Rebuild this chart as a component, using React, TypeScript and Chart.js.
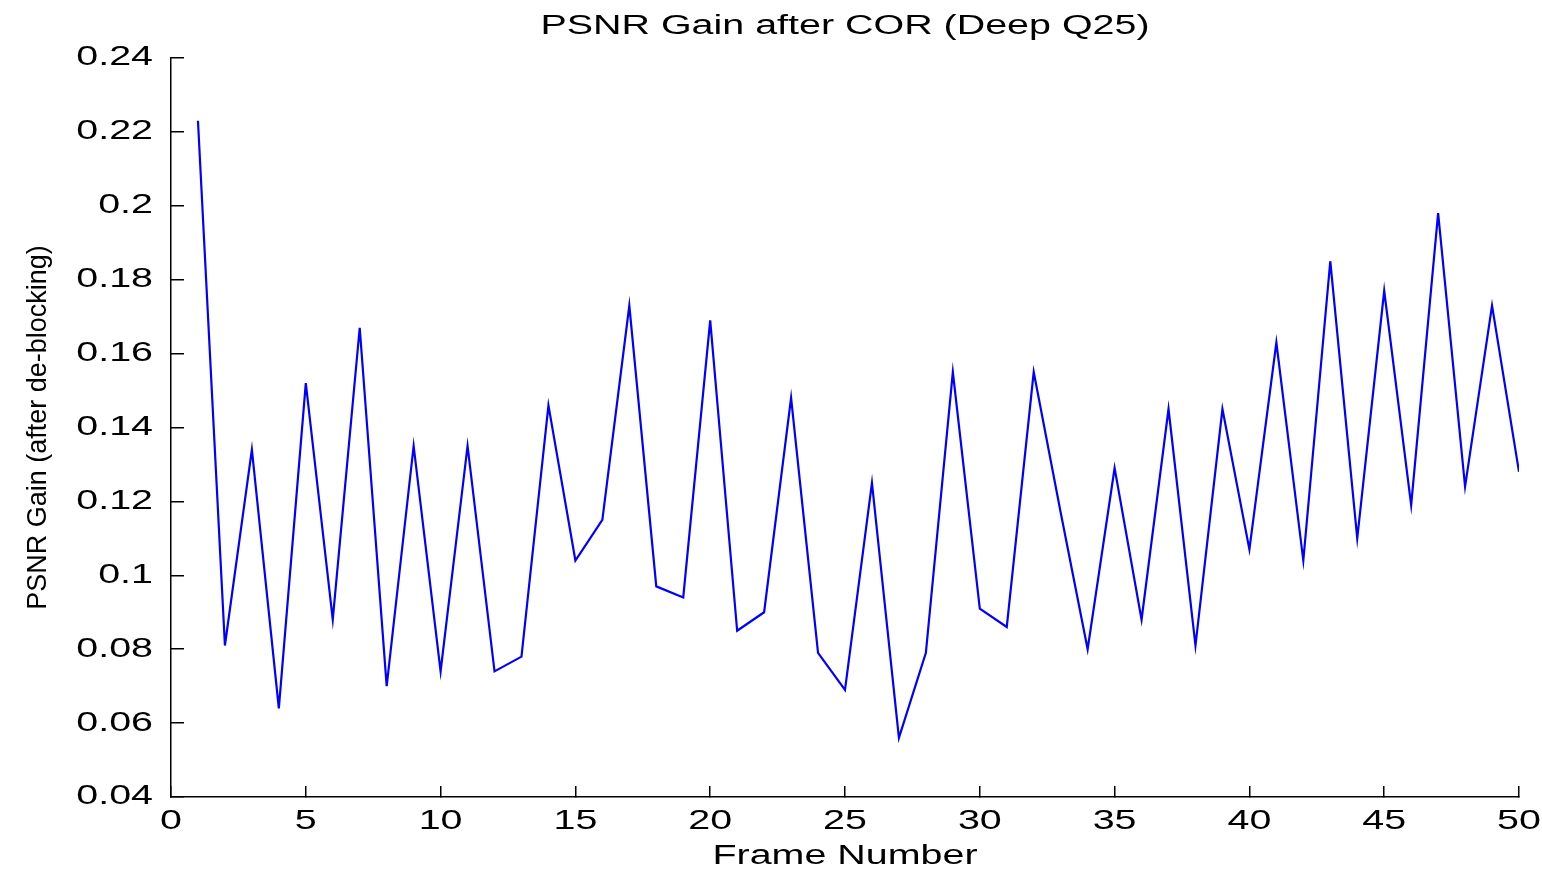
import React, { useEffect, useRef } from 'react';
import { Chart, registerables } from 'chart.js';

Chart.register(...registerables);

// ---- data ----
const frames = [
  1, 2, 3, 4, 5, 6, 7, 8, 9, 10,
  11, 12, 13, 14, 15, 16, 17, 18, 19, 20,
  21, 22, 23, 24, 25, 26, 27, 28, 29, 30,
  31, 32, 33, 34, 35, 36, 37, 38, 39, 40,
  41, 42, 43, 44, 45, 46, 47, 48, 49, 50,
];
const psnrGain = [
  0.223, 0.081, 0.134, 0.064, 0.152, 0.088, 0.167, 0.070, 0.135, 0.074,
  0.135, 0.074, 0.078, 0.146, 0.104, 0.115, 0.173, 0.097, 0.094, 0.169,
  0.085, 0.090, 0.148, 0.079, 0.069, 0.125, 0.056, 0.079, 0.155, 0.091,
  0.086, 0.155, 0.117, 0.080, 0.129, 0.088, 0.145, 0.081, 0.145, 0.107,
  0.163, 0.104, 0.185, 0.110, 0.177, 0.119, 0.198, 0.124, 0.173, 0.128,
];
const xTicks = [0, 5, 10, 15, 20, 25, 30, 35, 40, 45, 50];
const yTicks = [0.04, 0.06, 0.08, 0.1, 0.12, 0.14, 0.16, 0.18, 0.2, 0.22, 0.24];
const chartTitle = 'PSNR Gain after COR (Deep Q25)';
const xTitle = 'Frame Number';
const yTitle = 'PSNR Gain (after de-blocking)';

const FONT = '"Liberation Sans", Arial, sans-serif';
const SX = 1.46; // horizontal widening of upright text (bitmap-like look)

export default function App() {
  const ref = useRef<HTMLCanvasElement>(null);

  useEffect(() => {
    document.body.style.margin = '0';
    const canvas = ref.current!;
    const ctx = canvas.getContext('2d')!;
    const proto = CanvasRenderingContext2D.prototype.fillText;
    (ctx as any).fillText = function (text: string, x: number, y: number, maxWidth?: number) {
      const m = ctx.getTransform();
      if (Math.abs(m.b) > 1e-6 || Math.abs(m.c) > 1e-6) {
        if (maxWidth === undefined) proto.call(ctx, text, x, y);
        else proto.call(ctx, text, x, y, maxWidth);
        return;
      }
      ctx.save();
      ctx.translate(x, y);
      ctx.scale(SX, 1);
      if (maxWidth === undefined) proto.call(ctx, text, 0, 0);
      else proto.call(ctx, text, 0, 0, maxWidth);
      ctx.restore();
    };

    const points = frames.map((f, i) => ({ x: f, y: psnrGain[i] }));

    const chart = new Chart(ctx, {
      type: 'line',
      data: {
        datasets: [
          {
            data: points,
            borderColor: '#0000ff',
            borderWidth: 2.2,
            pointRadius: 0,
            tension: 0,
            fill: false,
          },
        ],
      },
      options: {
        responsive: false,
        animation: false,
        devicePixelRatio: 1,
        layout: { padding: { left: 0, right: 23, top: 0, bottom: 0 } },
        plugins: {
          legend: { display: false },
          tooltip: { enabled: false },
          title: {
            display: true,
            fullSize: false,
            text: chartTitle,
            color: '#000',
            font: { family: FONT, size: 27, weight: 'normal' },
            padding: { top: 10, bottom: 15.6 },
          },
        },
        scales: {
          x: {
            type: 'linear',
            min: 0,
            max: 50,
            afterBuildTicks: (scale: any) => {
              scale.ticks = xTicks.map((v) => ({ value: v }));
            },
            afterFit: (scale: any) => {
              scale.height = 76;
              scale.paddingLeft = 0;
              scale.paddingRight = 0;
            },
            ticks: {
              color: '#000',
              font: { family: FONT, size: 27 },
              padding: 19,
              maxRotation: 0,
              autoSkip: false,
            },
            grid: {
              drawOnChartArea: false,
              drawTicks: true,
              tickLength: -11,
              color: '#000',
              lineWidth: 1.5,
            },
            border: { display: true, color: '#000', width: 1.5 },
            title: {
              display: true,
              text: xTitle,
              color: '#000',
              font: { family: FONT, size: 27 },
              padding: { top: 0, bottom: 0 },
            },
          },
          y: {
            type: 'linear',
            min: 0.04,
            max: 0.24,
            afterBuildTicks: (scale: any) => {
              scale.ticks = yTicks.map((v) => ({ value: v }));
            },
            afterFit: (scale: any) => {
              scale.width = 171;
              scale.paddingTop = 0;
              scale.paddingBottom = 0;
            },
            ticks: {
              color: '#000',
              font: { family: FONT, size: 27 },
              padding: 31,
              autoSkip: false,
              callback: (v: any) => String(parseFloat(Number(v).toFixed(2))),
            },
            grid: {
              drawOnChartArea: false,
              drawTicks: true,
              tickLength: -13,
              color: '#000',
              lineWidth: 1.5,
            },
            border: { display: true, color: '#000', width: 1.5 },
            title: {
              display: true,
              text: yTitle,
              color: '#000',
              font: { family: FONT, size: 27 },
              padding: { top: 22, bottom: 0 },
            },
          },
        },
      },
    } as any);

    return () => {
      chart.destroy();
      delete (ctx as any).fillText;
    };
  }, []);

  return (
    <canvas
      ref={ref}
      width={1542}
      height={873}
      style={{ display: 'block', width: '1542px', height: '873px' }}
    />
  );
}
